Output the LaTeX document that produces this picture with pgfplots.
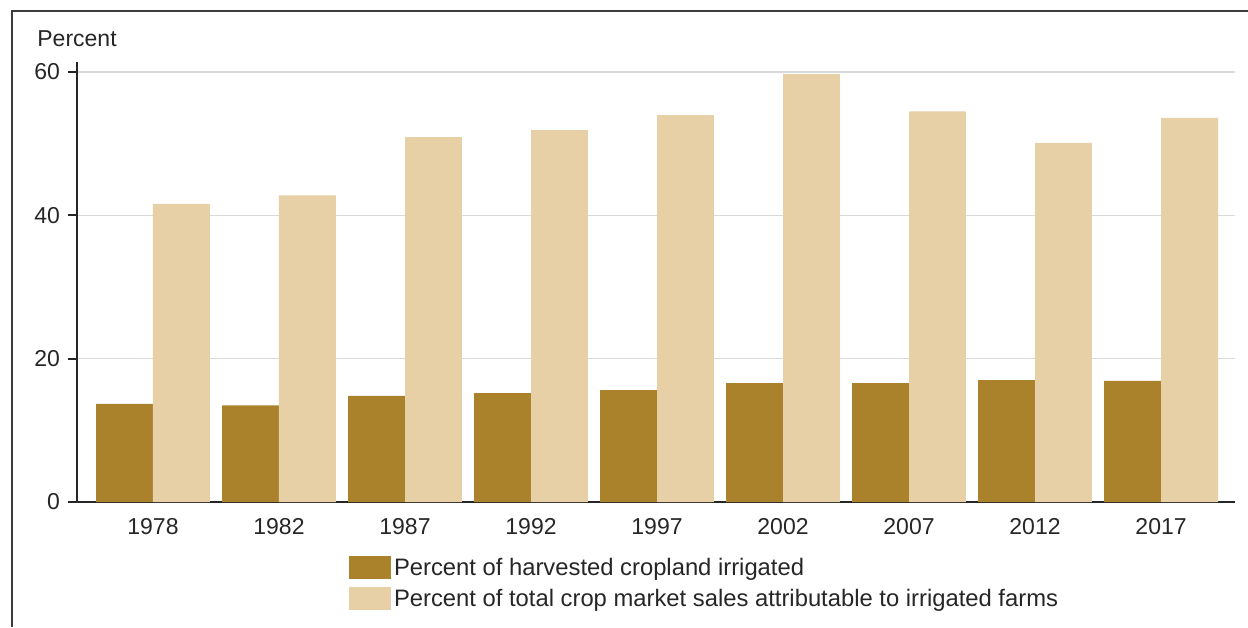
\documentclass[border=0pt]{standalone}
\usepackage{pgfplots}
\pgfplotsset{compat=1.18}
\usepackage{fontspec}
\setmainfont{Liberation Sans}
\definecolor{darkbar}{HTML}{A9822B}
\definecolor{lightbar}{HTML}{E7CFA6}
\definecolor{txt}{HTML}{262626}
\definecolor{gridc}{HTML}{D9D9D9}
\begin{document}
\fontsize{11.5}{13.8}\selectfont
\begin{tikzpicture}
\useasboundingbox (0,0) rectangle (624pt,313.5pt);
\draw[line width=1pt, color=txt!90] (6pt,0) -- (6pt,308pt) -- (624pt,308pt);
\begin{axis}[
  at={(38.5pt,62.5pt)}, anchor=south west,
  scale only axis, width=579pt, height=220pt,
  xmin=-0.603, xmax=8.587, ymin=0, ymax=61.4,
  axis x line*=bottom, axis y line*=left,
  axis line style={line width=1pt, color=txt, -},
  ybar, bar width=0.452,
  ytick={0,20,40,60},
  xtick={0,...,8},
  xticklabels={1978,1982,1987,1992,1997,2002,2007,2012,2017},
  xtick style={draw=none},
  ytick style={line width=1pt, color=txt},
  tick align=outside, major tick length=4.5pt,
  ymajorgrids, grid style={gridc, line width=0.75pt},
  /pgf/number format/assume math mode=true,
  ticklabel style={text=txt, font=\fontsize{11.5}{13.8}\selectfont},
  xticklabel style={yshift=0.3pt},
  legend style={at={(0.2349,-0.1227)}, anchor=north west, draw=none, fill=none,
    inner sep=0pt, outer sep=0pt, row sep=4pt,
    nodes={inner xsep=1.5pt, inner ysep=0pt, text=txt, text height=9.85pt, text depth=1.65pt,
      font=\fontsize{11.9}{14.2}\selectfont},
    cells={anchor=west}},
  legend image code/.code={\fill[#1] (0pt,-5.75pt) rectangle (21pt,5.75pt);},
]
\addplot[fill=darkbar, draw=none, bar shift=-0.226] coordinates {
  (0,13.7) (1,13.5) (2,14.8) (3,15.2) (4,15.6) (5,16.6) (6,16.6) (7,17.0) (8,16.9)};
\addlegendentry{Percent of harvested cropland irrigated}
\addplot[fill=lightbar, draw=none, bar shift=0.226] coordinates {
  (0,41.6) (1,42.8) (2,50.9) (3,51.9) (4,54.0) (5,59.7) (6,54.5) (7,50.1) (8,53.6)};
\addlegendentry{Percent of total crop market sales attributable to irrigated farms}
\end{axis}
\node[anchor=base west, inner sep=0pt, text=txt] at (18.5pt,290pt) {Percent};
\end{tikzpicture}
\end{document}
